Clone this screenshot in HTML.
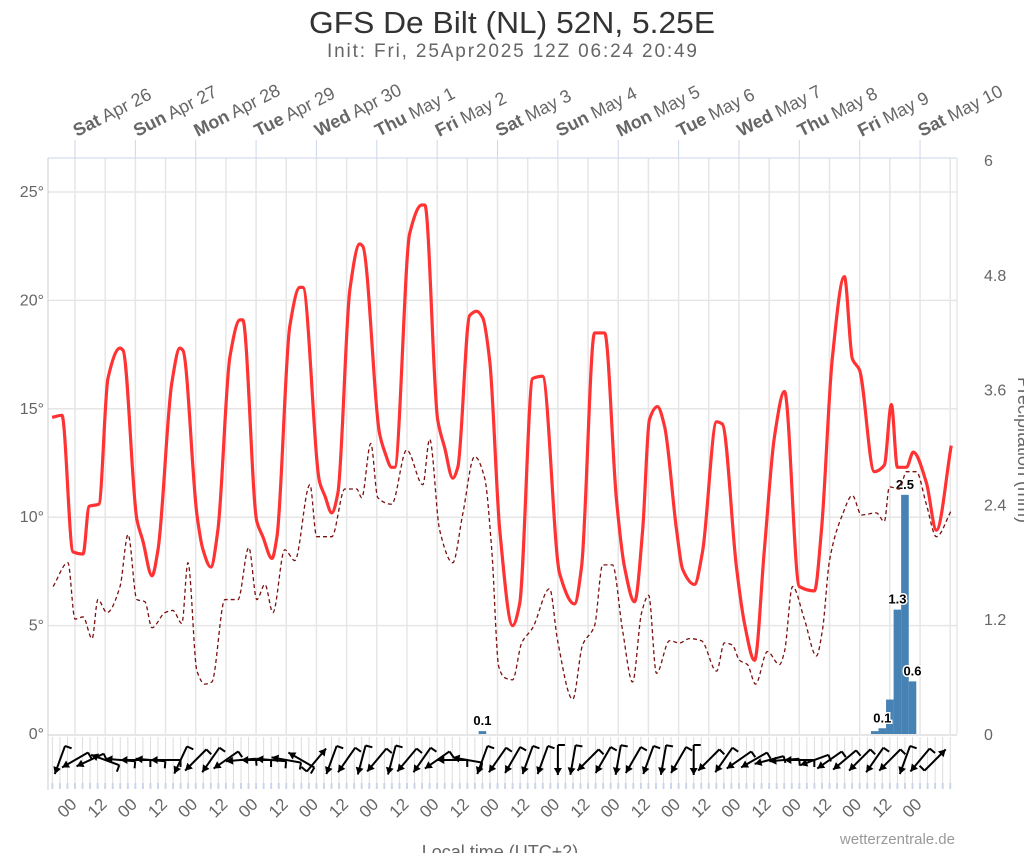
<!DOCTYPE html>
<html><head><meta charset="utf-8">
<style>
html,body{margin:0;padding:0;background:#fff;}
svg{display:block;font-family:"Liberation Sans",sans-serif;}
</style></head>
<body>
<svg id="chart" width="1024" height="853" viewBox="0 0 1024 853">
<text x="512" y="33" text-anchor="middle" font-size="31" fill="#333" textLength="406" lengthAdjust="spacingAndGlyphs">GFS De Bilt (NL) 52N, 5.25E</text>
<text x="512" y="57" text-anchor="middle" font-size="19" fill="#666" textLength="370" lengthAdjust="spacing">Init: Fri, 25Apr2025 12Z 06:24 20:49</text>
<g id="grid"></g>
<g id="axes"></g>
<g id="bars"></g>
<g id="lines"></g>
<g id="wind"></g>
<text x="500" y="858" text-anchor="middle" font-size="18" fill="#666">Local time (UTC+2)</text>
<text x="0" y="0" transform="translate(1018,450) rotate(90)" text-anchor="middle" font-size="18" fill="#666">Precipitation (mm)</text>
<text x="955" y="844" text-anchor="end" font-size="15" fill="#999">wetterzentrale.de</text>
</svg>
<script>
const tempHours=[-9.1,-5.2,-0.8,3.2,5.6,9.5,13.1,17.9,19.1,24.6,27.0,30.6,33.0,38.5,41.7,42.9,48.5,50.9,54.0,56.8,61.6,65.6,66.7,72.3,74.7,78.3,80.3,85.4,89.4,90.6,97.3,99.3,102.1,104.5,109.3,113.2,114.4,121.2,123.2,125.9,127.1,133.1,137.9,139.1,144.2,147.0,150.2,152.2,156.9,159.7,162.1,164.9,168.9,174.0,176.8,182.0,185.9,192.7,198.6,201.4,206.6,210.6,215.3,218.5,222.5,225.7,228.4,231.6,234.4,239.2,241.6,246.3,249.5,255.1,257.4,263.0,266.2,270.2,274.1,278.1,282.1,288.0,294.0,296.8,301.1,305.9,309.1,311.9,317.8,321.8,324.6,327.0,330.6,333.3,338.5,342.5,348.4];
const tempValues=[14.6,14.7,8.4,8.3,10.5,10.6,16.4,17.8,17.7,9.9,8.9,7.3,8.5,16.2,17.8,17.7,10.1,8.5,7.7,9.4,17.4,19.1,19.1,9.8,9.1,8.1,9.1,18.8,20.6,20.6,11.6,11.0,10.2,11.1,20.5,22.6,22.5,13.8,13.0,12.3,12.3,23.1,24.4,24.4,14.5,13.2,11.8,12.3,19.3,19.5,19.2,17.2,9.4,5.0,6.0,16.4,16.5,7.4,6.0,7.7,18.5,18.5,10.8,7.7,6.1,9.4,14.5,15.1,14.2,9.4,7.6,6.9,8.4,14.4,14.3,7.7,5.1,3.4,8.5,13.7,15.8,6.8,6.6,9.4,17.3,21.1,17.3,16.8,12.1,12.4,15.2,12.3,12.3,13.0,11.6,9.4,13.3];
const dewHours=[-8.7,-2.8,0,3.2,6.8,9.1,12.7,17.9,21.1,24.6,27.8,30.6,35.8,38.9,42.5,44.9,48.5,51.6,54.4,59.6,64.8,69.1,72.3,75.5,78.7,83.4,87.4,93.4,96.1,102.1,107.3,112.0,114.0,117.6,120.4,125.9,131.9,138.3,141.0,145.0,150.2,154.1,158.9,162.9,165.7,168.5,170.8,174.0,177.6,182.0,188.7,191.9,197.9,201.8,206.6,209.8,213.7,217.7,221.7,225.3,228.1,231.2,236.4,240.4,244.3,249.1,255.1,258.2,261.4,264.2,267.4,270.6,275.3,280.1,282.1,285.3,290.0,294.8,297.2,300.0,305.1,309.1,312.7,318.6,321.8,323.8,327.8,330.6,334.5,338.5,342.5,348.4];
const dewValues=[6.8,7.9,5.3,5.4,4.4,6.2,5.6,6.8,9.2,6.2,6.1,4.9,5.6,5.7,5.1,7.9,2.9,2.3,2.4,6.2,6.2,8.6,6.2,6.9,5.6,8.5,8.0,11.5,9.1,9.1,11.3,11.3,10.9,13.4,10.9,10.6,13.1,11.5,13.6,9.4,7.9,10.1,12.8,11.8,8.5,3.1,2.6,2.5,4.2,4.9,6.7,4.3,1.6,4.1,5.0,7.8,7.8,4.8,2.4,5.6,6.4,2.8,4.3,4.2,4.4,4.3,2.9,4.2,4.1,3.4,3.2,2.3,3.8,3.2,3.8,6.8,5.3,3.6,4.8,8.0,10.1,11.0,10.1,10.2,9.8,11.4,11.3,12.1,12.1,10.6,9.1,10.3];
const precipHours=[162,318,321,324,327,330,333];
const precipValues=[0.03,0.03,0.06,0.36,1.3,2.5,0.55];
const precipLabels=[["0.1",0],["0.1",2],["1.3",4],["2.5",5],["0.6",6]];
const tempTicks=[0,5,10,15,20,25];
const precipTicks=[0,1.2,2.4,3.6,4.8,6];
const dayLabels=[["Sat","Apr 26"],["Sun","Apr 27"],["Mon","Apr 28"],["Tue","Apr 29"],["Wed","Apr 30"],["Thu","May 1"],["Fri","May 2"],["Sat","May 3"],["Sun","May 4"],["Mon","May 5"],["Tue","May 6"],["Wed","May 7"],["Thu","May 8"],["Fri","May 9"],["Sat","May 10"]];
const windHours=[-6,0,6,12,18,24,30,36,42,48,54,60,66,72,78,84,90,96,102,108,114,120,126,132,138,144,150,156,162,168,174,180,186,192,198,204,210,216,222,228,234,240,246,252,258,264,270,276,282,288,294,300,306,312,318,324,330,336,342];
const windDirs=[200,240,245,290,275,270,275,270,205,225,215,235,265,270,275,280,300,40,200,215,195,220,195,220,215,235,270,280,200,215,210,200,200,180,190,225,210,190,210,200,190,210,180,225,215,235,240,255,265,270,250,235,230,225,215,225,200,220,45];

const L=48,R=957,T=158,B=734;
const X=h=>75+h*2.515;
const YT=t=>B-t*21.68;
const YP=p=>B-p*(B-160)/6;
const NS="http://www.w3.org/2000/svg";
function mk(tag,attrs,parent){const e=document.createElementNS(NS,tag);for(const k in attrs)e.setAttribute(k,attrs[k]);parent.appendChild(e);return e;}
const grid=document.getElementById('grid'),axes=document.getElementById('axes'),bars=document.getElementById('bars'),lines=document.getElementById('lines'),wind=document.getElementById('wind');

for(let h=-12;h<=348;h+=12){const x=X(h);if(x<L||x>R)continue;
 const g=mk('line',{x1:x,x2:x,y1:T,y2:B,stroke:'#e6e6e6','stroke-width':1.5},grid);
 
 }
tempTicks.forEach(t=>{if(t===0)return;const y=YT(t);
 const g=mk('line',{x1:L,x2:R,y1:y,y2:y,stroke:'#e6e6e6','stroke-width':1.5},grid);
 
 });
mk('line',{x1:L,x2:R,y1:T,y2:T,stroke:'#ccd6eb','stroke-width':1},axes);
mk('line',{x1:L,x2:L,y1:T,y2:790,stroke:'#ccc','stroke-width':1},axes);
mk('line',{x1:R,x2:R,y1:T,y2:B,stroke:'#ddd','stroke-width':1},axes);
mk('line',{x1:L,x2:R,y1:B+1,y2:B+1,stroke:'#ccc','stroke-width':1},axes);
tempTicks.forEach(t=>{const e=mk('text',{x:44,y:YT(t)+5,'text-anchor':'end','font-size':16,fill:'#666'},axes);e.textContent=t+'°';
 
 });
precipTicks.forEach(p=>{const e=mk('text',{x:984,y:YP(p)+6,'text-anchor':'start','font-size':16,fill:'#666'},axes);e.textContent=String(p);
 
 });
dayLabels.forEach((d,i)=>{const x=X(i*24);
 mk('line',{x1:x,x2:x,y1:140,y2:T,stroke:'#ccd6eb','stroke-width':1},axes);
 const t=mk('text',{x:0,y:0,transform:`translate(${x+2},137) rotate(-27)`,'font-size':18,fill:'#666'},axes);
 
 
 const b=mk('tspan',{'font-weight':'bold'},t);b.textContent=d[0];
 const n=mk('tspan',{},t);n.textContent=' '+d[1];});
for(let h=0;h<=336;h+=12){const x=X(h);
 const t=mk('text',{x:0,y:0,transform:`translate(${x-4},812) rotate(-45)`,'text-anchor':'middle','font-size':17,fill:'#666'},axes);
 t.textContent=(h%24===0)?'00':'12';
 
 }
for(let h=-9;h<=348;h+=3){const x=X(h);if(x<L||x>R)continue;
 mk('line',{x1:x,x2:x,y1:737,y2:783,stroke:'#ddd','stroke-width':1},wind);
 mk('line',{x1:x,x2:x,y1:783,y2:789,stroke:'#ccd6eb','stroke-width':2},wind);}
precipHours.forEach((h,i)=>{const x=X(h)-3.8,y=YP(precipValues[i]);
 const r=mk('rect',{x:x,y:y,width:7.6,height:B-y,fill:'#4682b4'},bars);
 
 });
precipLabels.forEach(([lab,i])=>{const t=mk('text',{x:X(precipHours[i]),y:YP(precipValues[i])-6,'text-anchor':'middle','font-size':13,'font-weight':'bold',fill:'#000',stroke:'#fff','stroke-width':3,'paint-order':'stroke'},bars);t.textContent=lab;
 
 });
function spline(xs,ys){const n=xs.length,dk=[],m=new Array(n);
 for(let i=0;i<n-1;i++)dk.push((ys[i+1]-ys[i])/(xs[i+1]-xs[i]));
 m[0]=dk[0];m[n-1]=dk[n-2];
 for(let i=1;i<n-1;i++){if(dk[i-1]*dk[i]<=0)m[i]=0;else{const w1=2*(xs[i+1]-xs[i])+(xs[i]-xs[i-1]),w2=(xs[i+1]-xs[i])+2*(xs[i]-xs[i-1]);m[i]=(w1+w2)/(w1/dk[i-1]+w2/dk[i]);}}
 let d=`M${xs[0]},${ys[0]}`;
 for(let i=0;i<n-1;i++){const h=(xs[i+1]-xs[i])/3;d+=` C${xs[i]+h},${ys[i]+m[i]*h} ${xs[i+1]-h},${ys[i+1]-m[i+1]*h} ${xs[i+1]},${ys[i+1]}`;}
 return d;}
const dew=mk('path',{d:spline(dewHours.map(X),dewValues.map(YT)),fill:'none',stroke:'#7a1010','stroke-width':1.3,'stroke-dasharray':'4,3'},lines);


const tmp=mk('path',{d:spline(tempHours.map(X),tempValues.map(YT)),fill:'none',stroke:'#ff3333','stroke-width':3.2,'stroke-linejoin':'round'},lines);


windHours.forEach((h,i)=>{const cx=X(h),cy=760,a=windDirs[i]*Math.PI/180,len=15;
 const dx=Math.sin(a)*len,dy=-Math.cos(a)*len;
 const g=mk('g',{},wind);
 
 
 const hx=cx+dx,hy=cy+dy,tx=cx-dx,ty=cy-dy;
 mk('line',{x1:tx,y1:ty,x2:hx,y2:hy,stroke:'#000','stroke-width':2},g);
 const ux=dx/len,uy=dy/len;
 mk('polygon',{points:`${hx},${hy} ${hx-ux*7-uy*4},${hy-uy*7+ux*4} ${hx-ux*7+uy*4},${hy-uy*7-ux*4}`,fill:'#000'},g);
 mk('line',{x1:tx,y1:ty,x2:tx+uy*7,y2:ty-ux*7,stroke:'#000','stroke-width':2},g);});
</script>
</body></html>
